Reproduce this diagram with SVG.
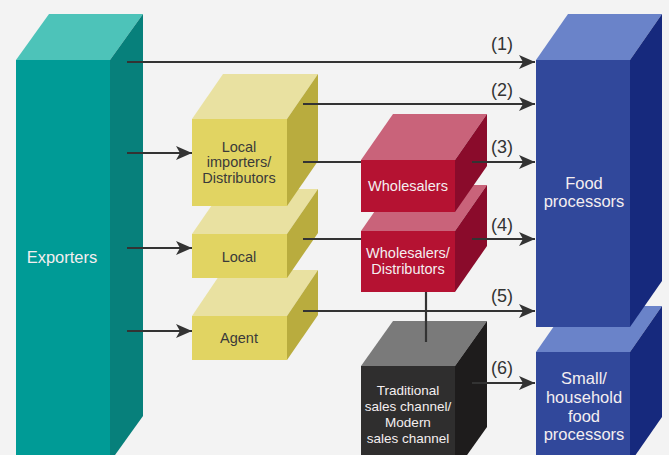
<svg xmlns="http://www.w3.org/2000/svg" width="669" height="455" viewBox="0 0 669 455">
<defs>
<style>
.t{font-family:"Liberation Sans",Arial,sans-serif;text-anchor:middle;dominant-baseline:central}
.dk{fill:#3a3a3a;font-size:14.5px}
.wh{fill:#f4eef0;font-size:14.5px}
.lb{fill:#333;font-size:18px}
.ln{stroke:#333;stroke-width:2.2;fill:none}
.ar{marker-end:url(#ah)}
.tealF{fill:#009b96}.tealT{fill:#4dc3b9}.tealS{fill:#07807b}
.yF{fill:#e1d462}.yT{fill:#e9e1a1}.yS{fill:#b9ac3e}
.rF{fill:#b51232}.rT{fill:#c9637a}.rS{fill:#8a0b2b}
.gF{fill:#2f2e2e}.gT{fill:#7a7a7a}.gS{fill:#1e1c1c}
.bF{fill:#31489b}.bT{fill:#6a83c9}.bS{fill:#16297d}
</style>
<marker id="ah" markerUnits="userSpaceOnUse" markerWidth="17" markerHeight="14" refX="16" refY="7" orient="auto">
<path d="M0,0 L16,7 L0,14 L4,7 z" fill="#333"/>
</marker>
</defs>
<rect width="669" height="455" fill="#f3f3f3"/>

<g id="exporters">
<polygon class="tealT" points="16,60 49,14 143,14 110,60"/>
<polygon class="tealS" points="110,60 143,14 143,416 110,462"/>
<rect class="tealF" x="16" y="60" width="94" height="402"/>
<text class="t wh" x="62" y="257" style="font-size:16.5px">Exporters</text>
</g>

<g id="agent">
<polygon class="yT" points="192,316 223,270 318,270 287,316"/>
<polygon class="yS" points="287,316 318,270 318,315 287,360"/>
<rect class="yF" x="192" y="316" width="95" height="44"/>
<text class="t dk" x="239" y="338">Agent</text>
</g>

<g id="local">
<polygon class="yT" points="192,234 223,189 318,189 287,234"/>
<polygon class="yS" points="287,234 318,189 318,233 287,278"/>
<rect class="yF" x="192" y="234" width="95" height="44"/>
<text class="t dk" x="239" y="257">Local</text>
</g>

<g id="local-importers">
<polygon class="yT" points="192,119 223,74 318,74 287,119"/>
<polygon class="yS" points="287,119 318,74 318,161 287,206"/>
<rect class="yF" x="192" y="119" width="95" height="87"/>
<text class="t dk" x="239" y="147">Local</text>
<text class="t dk" x="239" y="162">importers/</text>
<text class="t dk" x="239" y="178">Distributors</text>
</g>

<g id="traditional">
<polygon class="gT" points="361,366 393,321 487,321 455,366"/>
<polygon class="gS" points="455,366 487,321 487,427 455,472"/>
<rect class="gF" x="361" y="366" width="94" height="106"/>
<text class="t wh" x="408" y="390" style="font-size:13.5px">Traditional</text>
<text class="t wh" x="408" y="406" style="font-size:13.5px">sales channel/</text>
<text class="t wh" x="408" y="422" style="font-size:13.5px">Modern</text>
<text class="t wh" x="408" y="438" style="font-size:13.5px">sales channel</text>
</g>

<g id="wholesalers-distributors">
<polygon class="rT" points="361,231 393,185 487,185 455,231"/>
<polygon class="rS" points="455,231 487,185 487,246 455,292"/>
<rect class="rF" x="361" y="231" width="94" height="61"/>
<text class="t wh" x="408" y="253">Wholesalers/</text>
<text class="t wh" x="408" y="269">Distributors</text>
</g>

<g id="wholesalers">
<polygon class="rT" points="361,160 393,114 487,114 455,160"/>
<polygon class="rS" points="455,160 487,114 487,166 455,212"/>
<rect class="rF" x="361" y="160" width="94" height="52"/>
<text class="t wh" x="408" y="186">Wholesalers</text>
</g>

<g id="small-processors">
<polygon class="bT" points="536,352 568,306 662,306 630,352"/>
<polygon class="bS" points="630,352 662,306 662,417 630,463"/>
<rect class="bF" x="536" y="352" width="94" height="111"/>
<text class="t wh" x="584" y="378" style="font-size:16.5px">Small/</text>
<text class="t wh" x="584" y="397" style="font-size:16.5px">household</text>
<text class="t wh" x="584" y="416" style="font-size:16.5px">food</text>
<text class="t wh" x="584" y="434" style="font-size:16.5px">processors</text>
</g>

<g id="food-processors">
<polygon class="bT" points="536,60 568,14 662,14 630,60"/>
<polygon class="bS" points="630,60 662,14 662,281 630,327"/>
<rect class="bF" x="536" y="60" width="94" height="267"/>
<text class="t wh" x="584" y="183" style="font-size:16.5px">Food</text>
<text class="t wh" x="584" y="201" style="font-size:16.5px">processors</text>
</g>

<g id="connectors">
<line class="ln ar" x1="127" y1="62" x2="535" y2="62"/>
<line class="ln ar" x1="303" y1="104" x2="535" y2="104"/>
<line class="ln ar" x1="127" y1="153" x2="192" y2="153"/>
<line class="ln ar" x1="127" y1="248" x2="192" y2="248"/>
<line class="ln ar" x1="127" y1="331" x2="192" y2="331"/>
<line class="ln" x1="303" y1="162" x2="361" y2="162"/>
<line class="ln" x1="303" y1="239" x2="361" y2="239"/>
<line class="ln ar" x1="472" y1="162" x2="535" y2="162"/>
<line class="ln ar" x1="472" y1="239" x2="535" y2="239"/>
<line class="ln ar" x1="303" y1="311" x2="535" y2="311"/>
<line class="ln ar" x1="472" y1="383" x2="535" y2="383"/>
<line class="ln" x1="426" y1="292" x2="426" y2="342"/>
<text class="t lb" x="502" y="44">(1)</text>
<text class="t lb" x="502" y="90">(2)</text>
<text class="t lb" x="502" y="147">(3)</text>
<text class="t lb" x="502" y="225">(4)</text>
<text class="t lb" x="502" y="296">(5)</text>
<text class="t lb" x="502" y="368">(6)</text>
</g>
</svg>
